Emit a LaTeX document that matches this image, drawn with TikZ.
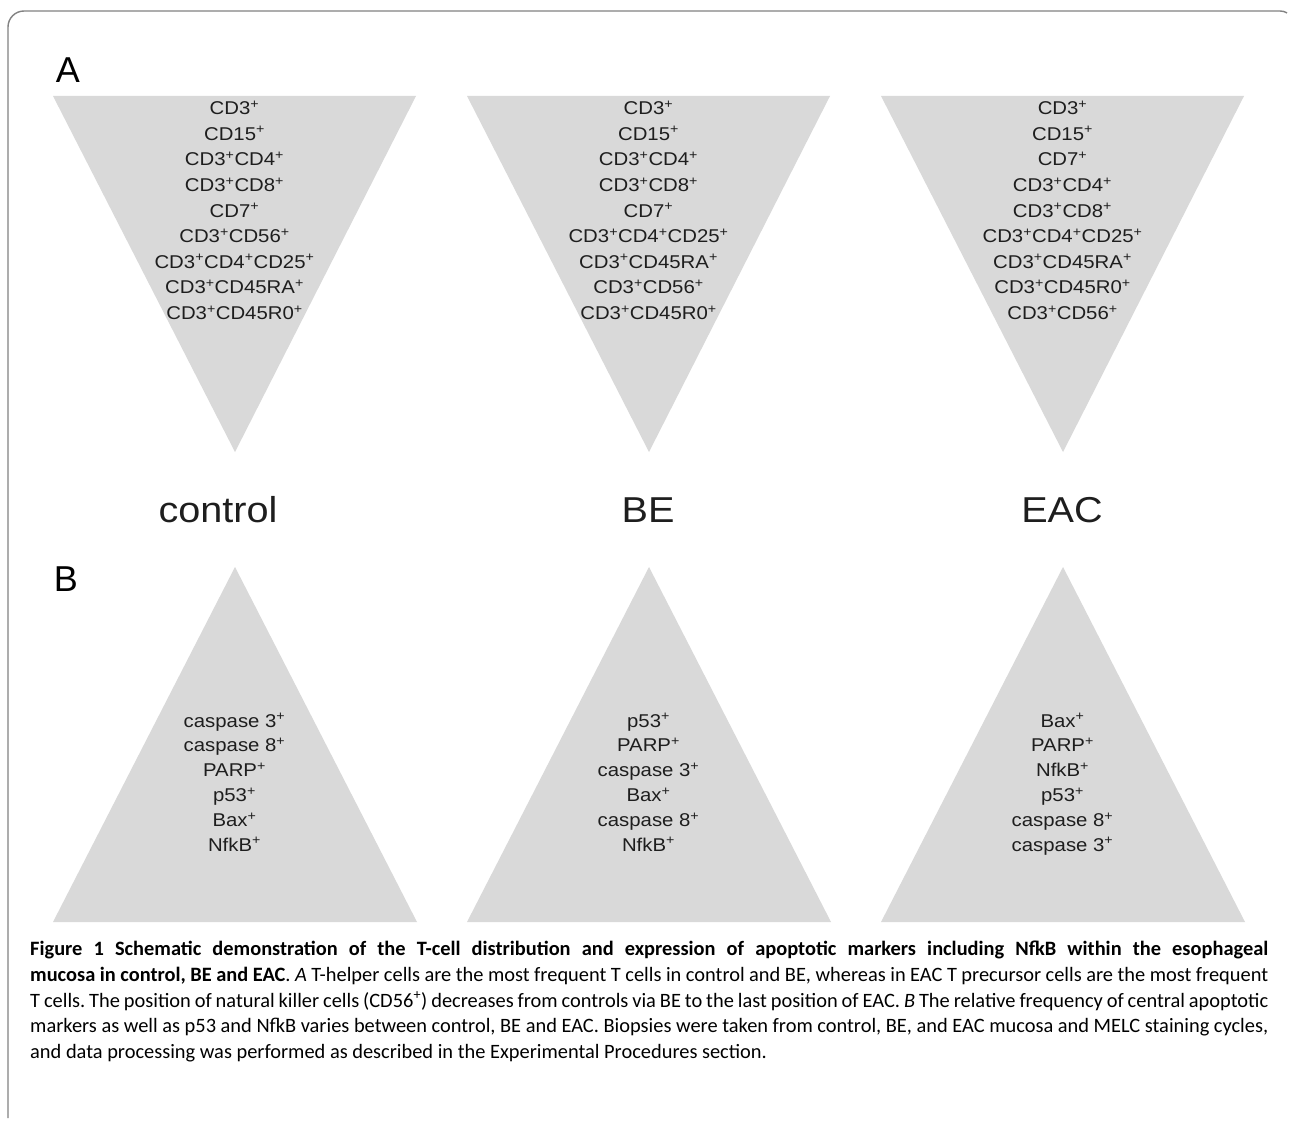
\documentclass[tikz,border=0pt]{standalone}
\usepackage{fontspec}
\usepackage{tikz}
\usepackage{xcolor}
\setmainfont{Liberation Sans}
\newfontfamily\mkfont[FakeStretch=1.1]{Liberation Sans}
\newfontfamily\capfont{Carlito}
\definecolor{tri}{RGB}{217,217,217}
\definecolor{ink}{RGB}{30,30,30}
\definecolor{frame}{RGB}{130,130,130}
\newcommand{\mkp}{\textsuperscript{+}}

\begin{document}
\begin{tikzpicture}[x=1pt, y=-1pt,
    marker/.style={align=center, inner sep=0pt, text=ink, font=\mkfont\fontsize{18.5}{25.6}\selectfont,
        execute at begin node=\strut, execute at end node=\strut},
    group/.style={inner sep=0pt, text=ink, font=\mkfont\fontsize{36}{40}\selectfont},
    panel/.style={inner sep=0pt, text=black, font=\fontsize{36}{40}\selectfont}]
        \useasboundingbox (0,0) rectangle (1289,1126);
        \fill [white] (0,0) rectangle (1289,1126);
        \draw [frame, line width=1.4pt] (8,1118) -- (8,27) arc (180:270:16) -- (1280,11) arc (270:300:14);

        \fill [tri] (53,96) -- (416,96) -- (235,452) -- cycle;
        \fill [tri] (467,96) -- (830,96) -- (649,452) -- cycle;
        \fill [tri] (881,96) -- (1244,96) -- (1063,452) -- cycle;
        \fill [tri] (53,922) -- (417,922) -- (235,567) -- cycle;
        \fill [tri] (467,922) -- (831,922) -- (649,567) -- cycle;
        \fill [tri] (881,922) -- (1245,922) -- (1063,567) -- cycle;

        \node [panel] (A) at (68,70) {A};
        \node [panel] (B) at (66,579) {B};

        \node [marker] (ctrlA) at (234.5,214) {CD3\mkp\\CD15\mkp\\CD3\mkp CD4\mkp\\CD3\mkp CD8\mkp\\CD7\mkp\\CD3\mkp CD56\mkp\\CD3\mkp CD4\mkp CD25\mkp\\CD3\mkp CD45RA\mkp\\CD3\mkp CD45R0\mkp};
        \node [marker] (beA) at (648.5,214) {CD3\mkp\\CD15\mkp\\CD3\mkp CD4\mkp\\CD3\mkp CD8\mkp\\CD7\mkp\\CD3\mkp CD4\mkp CD25\mkp\\CD3\mkp CD45RA\mkp\\CD3\mkp CD56\mkp\\CD3\mkp CD45R0\mkp};
        \node [marker] (eacA) at (1062.5,214) {CD3\mkp\\CD15\mkp\\CD7\mkp\\CD3\mkp CD4\mkp\\CD3\mkp CD8\mkp\\CD3\mkp CD4\mkp CD25\mkp\\CD3\mkp CD45RA\mkp\\CD3\mkp CD45R0\mkp\\CD3\mkp CD56\mkp};

        \node [group] (control) at (218,510) {control};
        \node [group] (BE) at (648,510) {BE};
        \node [group] (EAC) at (1062,510) {EAC};

        \node [marker, font=\mkfont\fontsize{18.5}{24.8}\selectfont] (ctrlB) at (234.5,786) {caspase 3\mkp\\caspase 8\mkp\\PARP\mkp\\p53\mkp\\Bax\mkp\\NfkB\mkp};
        \node [marker, font=\mkfont\fontsize{18.5}{24.8}\selectfont] (beB) at (648.5,786) {p53\mkp\\PARP\mkp\\caspase 3\mkp\\Bax\mkp\\caspase 8\mkp\\NfkB\mkp};
        \node [marker, font=\mkfont\fontsize{18.5}{24.8}\selectfont] (eacB) at (1062.5,786) {Bax\mkp\\PARP\mkp\\NfkB\mkp\\p53\mkp\\caspase 8\mkp\\caspase 3\mkp};

        \node [anchor=north west, inner sep=0pt, text width=1238pt, align=justify, font=\capfont\frenchspacing\fontsize{20.4}{25.7}\selectfont] (caption) at (30,941)
            {\textbf{Figure 1 Schematic demonstration of the T-cell distribution and expression of apoptotic markers including NfkB within the esophageal\linebreak
            mucosa in control, BE and EAC}. \textit{A} T-helper cells are the most frequent T cells in control and BE, whereas in EAC T precursor cells are the most frequent\linebreak
            T cells. The position of natural killer cells (CD56\textsuperscript{+}) decreases from controls via BE to the last position of EAC. \textit{B} The relative frequency of central apoptotic\linebreak
            markers as well as p53 and NfkB varies between control, BE and EAC. Biopsies were taken from control, BE, and EAC mucosa and MELC staining cycles,\linebreak
            and data processing was performed as described in the Experimental Procedures section.};
    \end{tikzpicture}
\end{document}
